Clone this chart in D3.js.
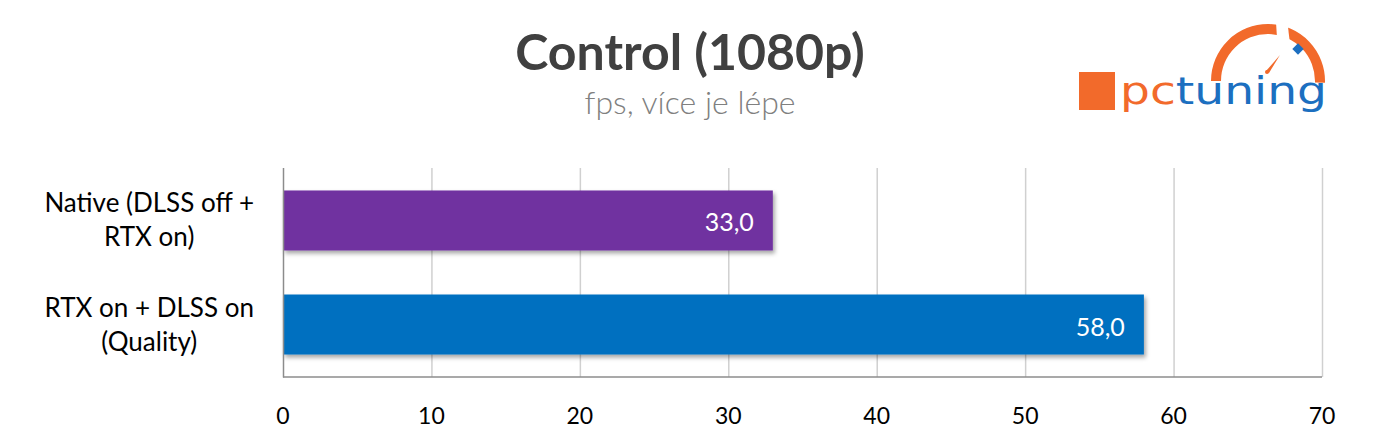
<!DOCTYPE html>
<html><head><meta charset="utf-8">
<script src="https://cdn.jsdelivr.net/npm/d3@7"></script>
<style>body{margin:0;background:#fff;}svg{display:block;font-family:Lato,"Open Sans",sans-serif;}</style>
</head><body><svg id="c" width="1386" height="440"></svg>
<script>
const categories = [["Native (DLSS off +","RTX on)"],["RTX on + DLSS on","(Quality)"]];
const values = [33.0, 58.0];
const barColors = ["#7030a0","#0070c0"];
const tickValues = [0,10,20,30,40,50,60,70];
const title = "Control (1080p)";
const subtitle = "fps, více je lépe";

const svg = d3.select("#c");
const defs = svg.append("defs");
const f = defs.append("filter").attr("id","sh").attr("x","-5%").attr("y","-20%").attr("width","115%").attr("height","160%");
f.append("feDropShadow").attr("dx",2).attr("dy",3).attr("stdDeviation",2.2).attr("flood-color","#000").attr("flood-opacity",0.35);

const x = d3.scaleLinear().domain([0,70]).range([283,1322]);
const y = d3.scaleBand().domain(d3.range(values.length)).range([168,377]).paddingInner(0.423).paddingOuter(0.216);

// gridlines
svg.append("g").selectAll("line").data(tickValues.slice(1)).join("line")
  .attr("x1",d=>x(d)+0.5).attr("x2",d=>x(d)+0.5).attr("y1",168).attr("y2",377)
  .attr("stroke","#d0d0d0").attr("stroke-width",1.5);

// bars
svg.append("g").selectAll("rect").data(values).join("rect")
  .attr("x",x(0)).attr("y",(d,i)=>y(i)).attr("width",d=>x(d)-x(0)).attr("height",y.bandwidth())
  .attr("fill",(d,i)=>barColors[i]).attr("filter","url(#sh)");

// axes lines
svg.append("line").attr("x1",x(0)+0.5).attr("x2",x(0)+0.5).attr("y1",168).attr("y2",377.5).attr("stroke","#8c8c8c").attr("stroke-width",1.5);
svg.append("line").attr("x1",x(0)).attr("x2",x(70)).attr("y1",377).attr("y2",377).attr("stroke","#8c8c8c").attr("stroke-width",1.5);

// x tick labels
svg.append("g").selectAll("text").data(tickValues).join("text")
  .attr("x",d=>x(d)).attr("y",424).attr("text-anchor","middle")
  .attr("font-size",23).attr("fill","#000").text(d=>d);

// value labels
const fmt = v => v.toFixed(1).replace(".",",");
svg.append("g").selectAll("text").data(values).join("text")
  .attr("x",d=>x(d)-19).attr("y",(d,i)=>y(i)+y.bandwidth()/2+11).attr("text-anchor","end")
  .attr("font-size",25).attr("fill","#fff").text(d=>fmt(d));

// category labels
categories.forEach((lines,i)=>{
  const g = svg.append("g");
  const c = y(i)+y.bandwidth()/2;
  const ts = lines.map((t,k)=>g.append("text").attr("font-size",26).attr("fill","#000")
     .attr("text-anchor","middle").attr("y",c - 8 + k*34).text(t));
  const w = d3.max(ts, t=>t.node().getComputedTextLength());
  ts.forEach(t=>t.attr("x",254 - w/2));
});

// titles
svg.append("text").attr("x",690).attr("y",70).attr("text-anchor","middle").attr("font-size",50)
  .attr("font-weight","bold").attr("fill","#404040").text(title);
svg.append("text").attr("x",690).attr("y",114).attr("text-anchor","middle").attr("font-size",32)
  .attr("font-weight",300).attr("fill","#808080").text(subtitle);

// logo
const logo = svg.append("g");
const orange = "#f26a2b", blue = "#1c6fc0";
logo.append("rect").attr("x",1079).attr("y",72).attr("width",36).attr("height",38).attr("fill",orange);
const arc = d3.arc().innerRadius(47).outerRadius(57).startAngle(-Math.PI*0.5).endAngle(Math.PI*0.51);
logo.append("path").attr("d",arc()).attr("transform","translate(1268,81)").attr("fill",orange);
logo.append("path").attr("d","M1276,22 L1288,27 L1290,44 L1277,38 Z").attr("fill","#fff");
logo.append("rect").attr("x",-4).attr("y",-4).attr("width",8).attr("height",8).attr("fill",blue)
  .attr("transform","translate(1298,49) rotate(45)");
logo.append("path").attr("d","M1266,71 L1280,55 L1269,73 Z").attr("fill",orange);
logo.append("circle").attr("cx",1267).attr("cy",72).attr("r",2).attr("fill",orange);
const lt = logo.append("text").attr("x",1120).attr("y",104).attr("font-size",37)
  .attr("font-family","DejaVu Sans").attr("textLength",207).attr("lengthAdjust","spacingAndGlyphs");
lt.append("tspan").attr("fill",orange).text("pc");
lt.append("tspan").attr("fill",blue).text("tuning");
</script></body></html>
